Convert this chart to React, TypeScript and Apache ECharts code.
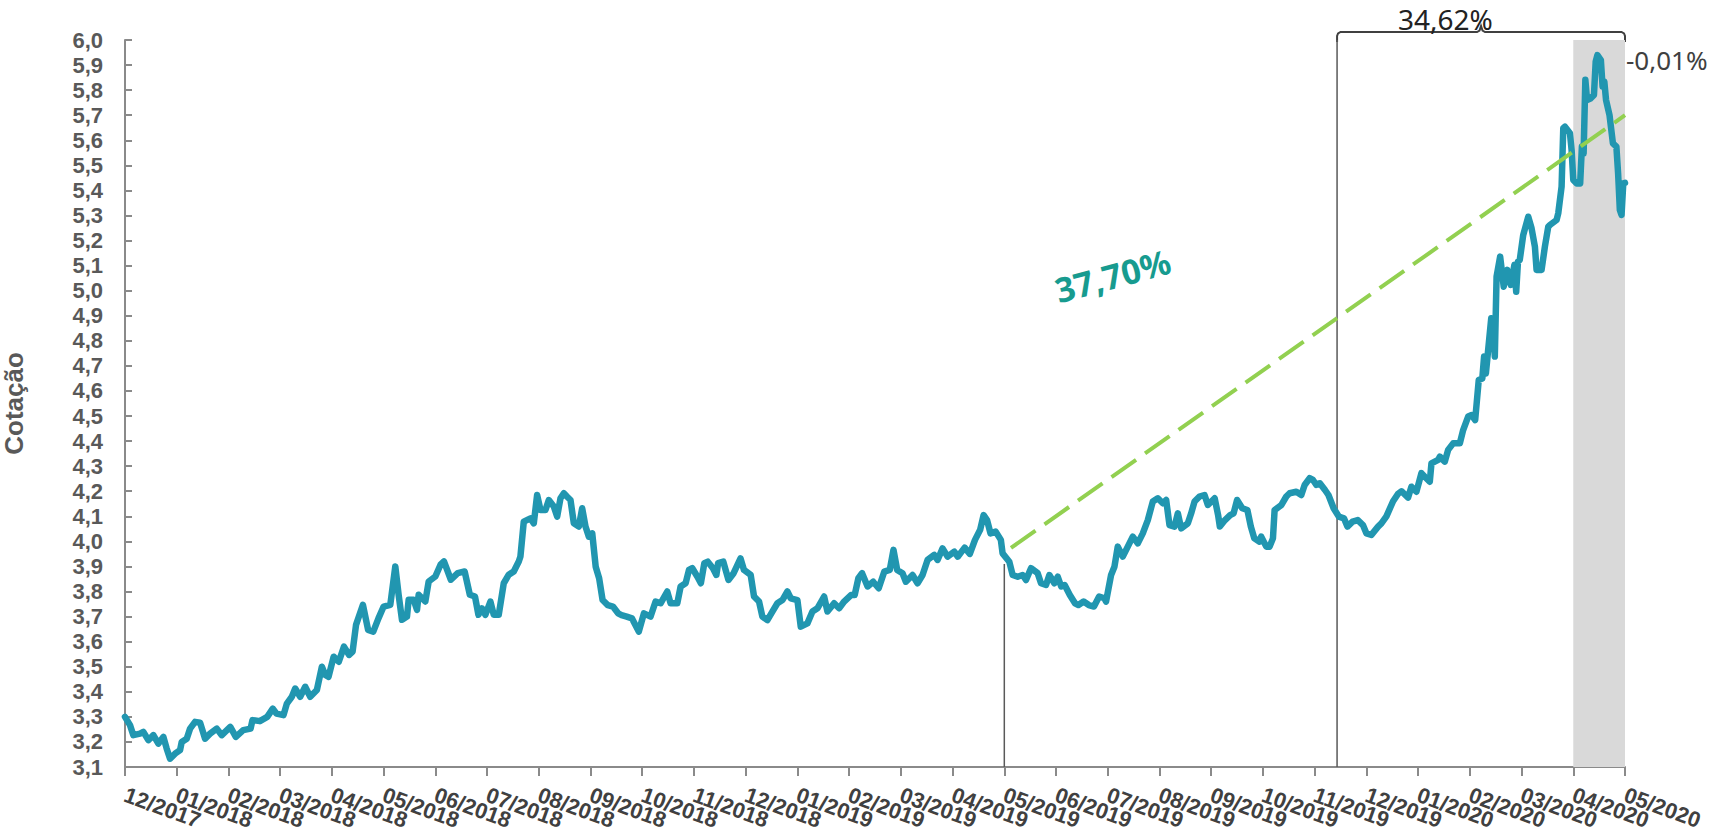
import React, { useEffect, useRef } from "react";
import * as echarts from "echarts";

// ---------- axis categories / ticks ----------
const monthLabels = [
  "12/2017",
  "01/2018", "02/2018", "03/2018", "04/2018", "05/2018", "06/2018",
  "07/2018", "08/2018", "09/2018", "10/2018", "11/2018", "12/2018",
  "01/2019", "02/2019", "03/2019", "04/2019", "05/2019", "06/2019",
  "07/2019", "08/2019", "09/2019", "10/2019", "11/2019", "12/2019",
  "01/2020", "02/2020", "03/2020", "04/2020", "05/2020",
];
const yMin = 3.1;
const yMax = 6.0;
const yStep = 0.1;

// ---------- series: dates and quotes ----------
const dates = [
  "2017-12-01","2017-12-04","2017-12-06","2017-12-10","2017-12-12","2017-12-15","2017-12-18","2017-12-21","2017-12-24","2017-12-26","2017-12-28","2017-12-31",
  "2018-01-03","2018-01-04","2018-01-07","2018-01-09","2018-01-12","2018-01-15","2018-01-18","2018-01-21","2018-01-25","2018-01-28",
  "2018-02-02","2018-02-05","2018-02-09","2018-02-13","2018-02-14","2018-02-18","2018-02-22","2018-02-25","2018-02-27",
  "2018-03-03","2018-03-05","2018-03-08","2018-03-10","2018-03-13","2018-03-16","2018-03-19","2018-03-23","2018-03-26","2018-03-28","2018-03-30",
  "2018-04-02","2018-04-05","2018-04-08","2018-04-11","2018-04-13","2018-04-15","2018-04-19","2018-04-22","2018-04-25","2018-04-28",
  "2018-05-01","2018-05-05","2018-05-08","2018-05-10","2018-05-12","2018-05-15","2018-05-16","2018-05-19","2018-05-21","2018-05-22","2018-05-26","2018-05-28",
  "2018-06-01","2018-06-04","2018-06-06","2018-06-10","2018-06-14","2018-06-18","2018-06-21","2018-06-24","2018-06-26","2018-06-28","2018-06-30",
  "2018-07-03","2018-07-05","2018-07-08","2018-07-11","2018-07-14","2018-07-17","2018-07-20","2018-07-21","2018-07-23","2018-07-27","2018-07-29","2018-07-31",
  "2018-08-02","2018-08-05","2018-08-07","2018-08-10","2018-08-12","2018-08-14","2018-08-16","2018-08-18","2018-08-20","2018-08-22","2018-08-25","2018-08-27","2018-08-29","2018-08-31",
  "2018-09-02","2018-09-04","2018-09-06","2018-09-08","2018-09-11","2018-09-14","2018-09-17","2018-09-19","2018-09-22","2018-09-25","2018-09-29",
  "2018-10-02","2018-10-06","2018-10-09","2018-10-12","2018-10-16","2018-10-18","2018-10-22","2018-10-24","2018-10-27","2018-10-29","2018-10-31",
  "2018-11-03","2018-11-05","2018-11-07","2018-11-09","2018-11-12","2018-11-14","2018-11-15","2018-11-18","2018-11-21","2018-11-24","2018-11-28","2018-11-30",
  "2018-12-04","2018-12-06","2018-12-09","2018-12-11","2018-12-14","2018-12-17","2018-12-20","2018-12-23","2018-12-26","2018-12-28",
  "2019-01-01","2019-01-03","2019-01-07","2019-01-10","2019-01-13","2019-01-17","2019-01-19","2019-01-23","2019-01-26","2019-01-29",
  "2019-02-02","2019-02-04","2019-02-06","2019-02-08","2019-02-11","2019-02-14","2019-02-17","2019-02-20","2019-02-23","2019-02-25","2019-02-27",
  "2019-03-02","2019-03-04","2019-03-08","2019-03-11","2019-03-14","2019-03-17","2019-03-21","2019-03-23","2019-03-26","2019-03-29",
  "2019-04-02","2019-04-04","2019-04-08","2019-04-11","2019-04-14","2019-04-17","2019-04-19","2019-04-21","2019-04-23","2019-04-26","2019-04-29","2019-04-30",
  "2019-05-04","2019-05-06","2019-05-09","2019-05-12","2019-05-14","2019-05-17","2019-05-21","2019-05-23","2019-05-26","2019-05-28","2019-05-31",
  "2019-06-02","2019-06-04","2019-06-06","2019-06-09","2019-06-12","2019-06-14","2019-06-17","2019-06-20","2019-06-23","2019-06-26","2019-06-29","2019-06-30",
  "2019-07-03","2019-07-05","2019-07-07","2019-07-10","2019-07-13","2019-07-16","2019-07-19","2019-07-22","2019-07-25","2019-07-28","2019-07-31",
  "2019-08-03","2019-08-05","2019-08-07","2019-08-10","2019-08-12","2019-08-14","2019-08-18","2019-08-20","2019-08-22","2019-08-25","2019-08-28","2019-08-30",
  "2019-09-03","2019-09-05","2019-09-06","2019-09-09","2019-09-12","2019-09-14","2019-09-16","2019-09-19","2019-09-22","2019-09-24","2019-09-26","2019-09-29","2019-09-30",
  "2019-10-03","2019-10-05","2019-10-07","2019-10-08","2019-10-12","2019-10-15","2019-10-17","2019-10-21","2019-10-24","2019-10-26","2019-10-29","2019-10-31",
  "2019-11-02","2019-11-04","2019-11-07","2019-11-09","2019-11-12","2019-11-15","2019-11-18","2019-11-20","2019-11-23","2019-11-26","2019-11-29",
  "2019-12-01","2019-12-04","2019-12-08","2019-12-10","2019-12-13","2019-12-17","2019-12-20","2019-12-22","2019-12-26","2019-12-28","2019-12-31",
  "2020-01-03","2020-01-05","2020-01-08","2020-01-09","2020-01-13","2020-01-14","2020-01-17","2020-01-19","2020-01-22","2020-01-26","2020-01-28","2020-01-31",
  "2020-02-02","2020-02-04","2020-02-06","2020-02-08","2020-02-09","2020-02-10","2020-02-11","2020-02-13","2020-02-14","2020-02-15","2020-02-16","2020-02-18","2020-02-20","2020-02-22","2020-02-24","2020-02-26","2020-02-27","2020-02-28","2020-02-29",
  "2020-03-02","2020-03-05","2020-03-07","2020-03-09","2020-03-10","2020-03-13","2020-03-15","2020-03-17","2020-03-18","2020-03-22","2020-03-23","2020-03-25","2020-03-26","2020-03-27","2020-03-30","2020-03-31",
  "2020-04-01","2020-04-03","2020-04-05","2020-04-06","2020-04-07","2020-04-08","2020-04-09","2020-04-11","2020-04-13","2020-04-14","2020-04-15","2020-04-17","2020-04-18","2020-04-19","2020-04-20","2020-04-22","2020-04-24","2020-04-26","2020-04-27","2020-04-28","2020-04-29","2020-04-30",
  "2020-05-01",
];
const quotes = [
  3.30,3.267,3.227,3.233,3.24,3.207,3.227,3.193,3.22,3.173,3.133,3.153,
  3.167,3.20,3.213,3.253,3.28,3.277,3.213,3.233,3.253,3.227,
  3.26,3.22,3.247,3.253,3.287,3.283,3.30,3.333,3.313,
  3.307,3.353,3.38,3.413,3.38,3.42,3.38,3.407,3.50,3.467,3.46,
  3.54,3.52,3.58,3.547,3.56,3.667,3.747,3.647,3.64,3.693,
  3.74,3.747,3.90,3.787,3.687,3.70,3.767,3.767,3.727,3.787,3.76,3.84,
  3.86,3.907,3.92,3.847,3.873,3.88,3.787,3.78,3.707,3.733,3.707,
  3.76,3.707,3.707,3.833,3.867,3.88,3.92,3.94,4.079,4.092,4.072,4.185,
  4.125,4.125,4.165,4.139,4.099,4.172,4.192,4.178,4.165,4.072,4.059,4.132,4.059,4.019,
  4.032,3.899,3.853,3.766,3.746,3.74,3.713,3.706,3.70,3.693,3.64,
  3.713,3.70,3.76,3.753,3.80,3.753,3.753,3.82,3.833,3.886,3.893,
  3.859,3.833,3.913,3.919,3.893,3.866,3.913,3.919,3.846,3.873,3.932,3.886,
  3.866,3.78,3.76,3.70,3.686,3.72,3.753,3.766,3.80,3.773,
  3.766,3.66,3.673,3.72,3.733,3.78,3.72,3.753,3.733,3.76,
  3.786,3.786,3.853,3.873,3.82,3.839,3.813,3.879,3.886,3.966,3.886,
  3.873,3.839,3.866,3.833,3.866,3.926,3.946,3.926,3.972,3.939,
  3.959,3.939,3.975,3.95,4.006,4.046,4.105,4.085,4.032,4.039,4.006,3.952,
  3.919,3.866,3.859,3.866,3.846,3.893,3.873,3.833,3.826,3.866,3.833,
  3.859,3.82,3.826,3.786,3.753,3.746,3.76,3.746,3.74,3.78,3.773,3.76,
  3.866,3.899,3.979,3.939,3.979,4.019,3.992,4.032,4.085,4.159,4.172,
  4.152,4.165,4.065,4.059,4.112,4.052,4.072,4.112,4.159,4.179,4.185,4.145,
  4.172,4.105,4.059,4.085,4.105,4.112,4.165,4.132,4.125,4.059,4.012,3.999,4.019,
  3.979,3.979,4.012,4.125,4.145,4.179,4.192,4.198,4.185,4.225,4.252,4.245,
  4.225,4.232,4.205,4.185,4.132,4.099,4.092,4.059,4.079,4.085,4.065,
  4.032,4.026,4.059,4.072,4.10,4.16,4.19,4.20,4.175,4.218,4.198,
  4.272,4.258,4.238,4.311,4.325,4.338,4.318,4.365,4.391,4.391,4.444,4.498,
  4.504,4.484,4.644,4.65,4.737,4.67,4.743,4.89,4.883,4.737,5.056,5.136,5.016,5.083,5.023,5.103,4.996,5.116,5.123,
  5.222,5.295,5.249,5.176,5.083,5.083,5.176,5.255,5.262,5.282,5.309,5.415,5.648,5.654,5.628,5.561,
  5.442,5.428,5.428,5.575,5.548,5.841,5.761,5.767,5.781,5.914,5.94,5.92,5.814,5.834,5.761,5.701,5.588,5.575,5.468,5.322,5.302,5.428,
  5.43,
];

// ---------- annotations (data domain) ----------
const trendDates = ["2019-05-05", "2020-05-01"];
const trendValues = [3.974, 5.70];
const dropLineDates = ["2019-05-01", "2019-11-14"];
const dropLineTops = [3.91, 6.0];
const shadeRange = ["2020-04-01", "2020-05-01"];
const bracketLabel = "34,62%";
const shadeLabel = "-0,01%";
const trendLabel = "37,70%";
const trendLabelDate = "2019-07-04";
const trendLabelValue = 5.06;

function monthPos(s: string): number {
  const [y, m, d] = s.split("-").map(Number);
  const dim = new Date(y, m, 0).getDate();
  return (y - 2017) * 12 + (m - 12) + (d - 1) / dim;
}

const AXIS_GREY = "#8a8a8a";
const LABEL_GREY = "#595959";
const FONT = "'Liberation Sans', Arial, sans-serif";
const ANN_FONT = "'Noto Sans', 'Open Sans', sans-serif";
const X_LABEL_ROTATE = -20;
const X_LABEL_MARGIN = 27;

export default function App() {
  const ref = useRef<HTMLDivElement>(null);

  useEffect(() => {
    document.body.style.margin = "0";
    if (!ref.current) return;
    const chart = echarts.init(ref.current, null, { renderer: "svg" });

    const lineData = dates.map((d, i) => [monthPos(d), quotes[i]]);
    const trendData = trendDates.map((d, i) => [monthPos(d), trendValues[i]]);

    const option: any = {
      animation: false,
      backgroundColor: "#ffffff",
      grid: {
        left: 125,
        right: 85,
        top: 40,
        bottom: 69,
        containLabel: false,
        outerBoundsMode: "none",
      },
      xAxis: {
        type: "value",
        min: 0,
        max: monthLabels.length - 1,
        interval: 1,
        splitLine: { show: false },
        axisLine: { onZero: false, lineStyle: { color: AXIS_GREY, width: 2 } },
        axisTick: { show: true, length: 9, lineStyle: { color: AXIS_GREY, width: 2 } },
        // month labels are drawn below (graphic texts placed on the axis ticks)
        axisLabel: { show: false },
      },
      yAxis: {
        type: "value",
        min: yMin,
        max: yMax,
        interval: yStep,
        name: "Cotação",
        nameLocation: "middle",
        nameRotate: 90,
        nameGap: 98,
        nameTextStyle: { fontSize: 26, fontWeight: "bold", color: LABEL_GREY, fontFamily: FONT },
        splitLine: { show: false },
        axisLine: { show: true, onZero: false, lineStyle: { color: AXIS_GREY, width: 2 } },
        axisTick: { show: true, inside: true, length: 7, lineStyle: { color: AXIS_GREY, width: 2 } },
        axisLabel: {
          margin: 22,
          fontSize: 22,
          fontWeight: "bold",
          fontFamily: FONT,
          color: LABEL_GREY,
          showMinLabel: true,
          showMaxLabel: true,
          formatter: (v: number) => v.toFixed(1).replace(".", ","),
        },
      },
      series: [
        {
          type: "line",
          name: "drop1",
          z: 1,
          data: [
            [monthPos(dropLineDates[0]), yMin],
            [monthPos(dropLineDates[0]), dropLineTops[0]],
          ],
          symbol: "none",
          silent: true,
          lineStyle: { color: "#595959", width: 1.5 },
          markArea: {
            silent: true,
            itemStyle: { color: "#d9d9d9" },
            data: [[{ xAxis: monthPos(shadeRange[0]) }, { xAxis: monthPos(shadeRange[1]) }]],
          },
        },
        {
          type: "line",
          name: "drop2",
          z: 1,
          data: [
            [monthPos(dropLineDates[1]), yMin],
            [monthPos(dropLineDates[1]), dropLineTops[1]],
          ],
          symbol: "none",
          silent: true,
          lineStyle: { color: "#595959", width: 1.5 },
        },
        {
          type: "line",
          name: "Cotação",
          z: 2,
          data: lineData,
          symbol: "none",
          lineStyle: { color: "#2196b0", width: 6.5, join: "round", cap: "round" },
        },
        {
          type: "line",
          name: "trend",
          z: 3,
          data: trendData,
          symbol: "none",
          clip: false,
          lineStyle: { color: "#92d050", width: 4, type: [30, 11] },
        },
      ],
    };
    chart.setOption(option);

    const px = (x: number, y: number) => chart.convertToPixel({ gridIndex: 0 }, [x, y]) as number[];
    const L = px(monthPos(dropLineDates[1]), yMax)[0];
    const R = px(monthLabels.length - 1, yMax)[0];
    const yT = px(0, yMax)[1];
    const M = (L + R) / 2;
    const bracketPts = [
      [L, yT + 2], [L, yT - 4], [L + 1, yT - 6.5], [L + 3.5, yT - 8],
      [M - 4, yT - 8], [M - 1.5, yT - 9.5], [M, yT - 14], [M + 1.5, yT - 9.5], [M + 4, yT - 8],
      [R - 3.5, yT - 8], [R - 1, yT - 6.5], [R, yT - 4], [R, yT + 2],
    ];
    const tl = px(monthPos(trendLabelDate), trendLabelValue);

    const monthTexts = monthLabels.map((lab, i) => {
      const p = px(i, yMin);
      return {
        type: "text",
        silent: true,
        x: p[0],
        y: p[1] + X_LABEL_MARGIN,
        rotation: (X_LABEL_ROTATE * Math.PI) / 180,
        style: {
          text: lab,
          fontSize: 22,
          fontWeight: "bold",
          fontFamily: FONT,
          fill: "#404040",
          align: "left",
          verticalAlign: "middle",
        },
      };
    });

    chart.setOption({
      graphic: [
        ...monthTexts,
        {
          type: "polyline",
          silent: true,
          shape: { points: bracketPts },
          style: { stroke: "#404040", lineWidth: 2, fill: null },
        },
        {
          type: "text",
          x: L + (R - L) * 0.376,
          y: yT - 21,
          style: {
            text: bracketLabel,
            fontSize: 28,
            fontFamily: ANN_FONT,
            fill: "#222222",
            align: "center",
            verticalAlign: "middle",
          },
        },
        {
          type: "text",
          x: R + 1,
          y: yT + 20,
          style: {
            text: shadeLabel,
            fontSize: 26,
            fontFamily: ANN_FONT,
            fill: "#404040",
            align: "left",
            verticalAlign: "middle",
          },
        },
        {
          type: "text",
          x: tl[0],
          y: tl[1],
          rotation: (15 * Math.PI) / 180,
          style: {
            text: trendLabel,
            fontSize: 34,
            fontWeight: "bold",
            fontFamily: ANN_FONT,
            fill: "#179b8f",
            align: "center",
            verticalAlign: "middle",
          },
        },
      ],
    });

    return () => chart.dispose();
  }, []);

  return <div ref={ref} style={{ width: 1710, height: 836 }} />;
}
